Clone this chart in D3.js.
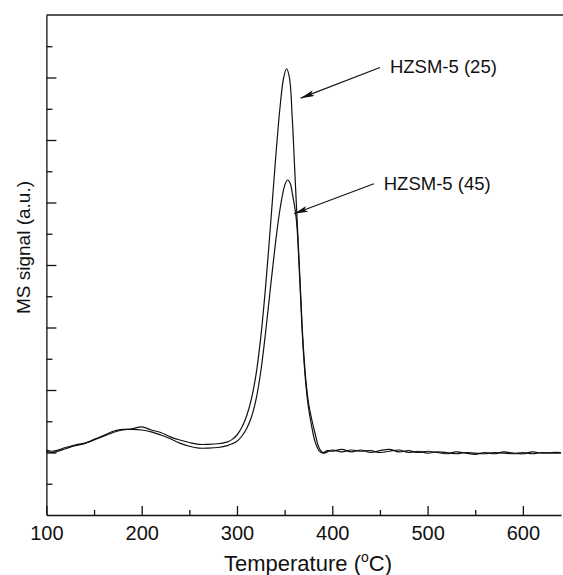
<!DOCTYPE html>
<html>
<head>
<meta charset="utf-8">
<script src="https://cdn.jsdelivr.net/npm/d3@7"></script>
<style>
    body { margin: 0; background: #fff; }
    svg { display: block; font-family: "Liberation Sans", Arial, sans-serif; }
    .axis path, .axis line { stroke: #111; stroke-width: 1.3; }
    .axis text { fill: #111; font-size: 20px; font-family: "Liberation Sans", Arial, sans-serif; }
</style>
</head>
<body>
<svg class="chart"></svg>
<script>

// temperature (oC) and MS signal
var temp25 = [100, 105, 110, 120, 130, 140, 150, 160, 170, 180, 190, 200, 210, 220, 230, 240,
    250, 260, 270, 280, 290, 295, 300, 305, 310, 315, 320, 325, 330, 335, 340, 345, 349, 352,
    355, 358, 360.5, 363, 366, 369, 372, 375, 378, 382, 386, 390, 395, 400, 410, 420, 430, 440,
    450, 460, 470, 480, 490, 500, 510, 520, 530, 540, 550, 560, 570, 580, 590, 600, 610, 620,
    630, 640];
var signal25 = [1.04, 1.02, 1.03, 1.08, 1.12, 1.15, 1.20, 1.26, 1.32, 1.36, 1.38, 1.41, 1.36,
    1.32, 1.25, 1.20, 1.16, 1.13, 1.13, 1.14, 1.17, 1.21, 1.28, 1.40, 1.58, 1.85, 2.25, 2.85,
    3.65, 4.60, 5.60, 6.50, 7.00, 7.14, 7.00, 6.35, 5.55, 4.75, 3.80, 2.85, 2.20, 1.80, 1.56,
    1.30, 1.08, 1.00, 1.03, 1.02, 1.05, 1.01, 1.04, 1.00, 1.03, 1.05, 1.01, 1.03, 1.00, 1.02,
    1.00, 0.98, 1.01, 0.99, 0.97, 1.00, 0.98, 1.01, 0.99, 0.98, 1.01, 0.99, 1.00, 1.00];

var temp45 = [100, 105, 110, 120, 130, 140, 150, 160, 170, 180, 190, 200, 210, 220, 230, 240,
    250, 260, 270, 280, 290, 295, 300, 305, 310, 315, 320, 325, 330, 335, 340, 345, 350, 353,
    356, 358, 361.5, 363, 366, 369, 372, 375, 378, 382, 386, 390, 395, 400, 410, 420, 430, 440,
    450, 460, 470, 480, 490, 500, 510, 520, 530, 540, 550, 560, 570, 580, 590, 600, 610, 620,
    630, 640];
var signal45 = [1.02, 1.00, 1.01, 1.06, 1.11, 1.14, 1.21, 1.27, 1.34, 1.37, 1.37, 1.36, 1.33,
    1.28, 1.22, 1.15, 1.10, 1.07, 1.07, 1.08, 1.11, 1.14, 1.18, 1.26, 1.38, 1.56, 1.85, 2.30,
    2.92, 3.62, 4.30, 4.88, 5.27, 5.36, 5.30, 5.15, 4.83, 4.60, 3.72, 2.78, 2.13, 1.72, 1.45,
    1.17, 1.03, 0.99, 1.01, 1.04, 1.01, 1.04, 1.02, 1.03, 1.00, 1.02, 1.04, 1.00, 1.02, 0.99,
    1.01, 1.00, 0.98, 1.00, 0.99, 0.98, 1.00, 0.99, 0.98, 1.00, 0.98, 1.00, 0.99, 0.99];

// axis ticks
var xMajor = [100, 200, 300, 400, 500, 600];
var xMinor = [150, 250, 350, 450, 550];
var yMajor = [1, 2, 3, 4, 5, 6, 7];
var yMinor = [0.5, 1.5, 2.5, 3.5, 4.5, 5.5, 6.5, 7.5];

// annotations: label, label anchor and arrow tip in data units
var labels = ["HZSM-5 (25)", "HZSM-5 (45)"];
var labelAt = [[460.5, 7.18], [454, 5.31]];
var arrowFrom = [[450, 7.16], [443.7, 5.30]];
var arrowTo = [[366.8, 6.67], [359.8, 4.82]];

drawChart();

function drawChart() {

    var width = 563,
        height = 575;

    var svg = d3.select(".chart")
        .attr("width", width)
        .attr("height", height);

    var x = d3.scaleLinear()
        .domain([100, 640])
        .range([46.4, 561]);

    var y = d3.scaleLinear()
        .domain([0, 8])
        .range([515, 15]);

    drawAxes(svg, x, y);
    drawCurves(svg, x, y);
    drawLabels(svg, x, y);
}

// axes with inward ticks
function drawAxes(svg, x, y) {

    // top frame line
    svg.append("line")
        .attr("x1", x(100))
        .attr("x2", 563)
        .attr("y1", y(8))
        .attr("y2", y(8))
        .attr("stroke", "#555")
        .attr("stroke-width", 2);

    svg.append("g")
        .attr("class", "x axis")
        .attr("transform", "translate(0," + y(0) + ")")
        .call(d3.axisBottom(x).tickValues(xMinor).tickSize(-5).tickFormat(""))
        .select(".domain").remove();

    svg.append("g")
        .attr("class", "x axis")
        .attr("transform", "translate(0," + y(0) + ")")
        .call(d3.axisBottom(x).tickValues(xMajor).tickSize(-9).tickSizeOuter(0).tickPadding(11));

    svg.append("g")
        .attr("class", "y axis")
        .attr("transform", "translate(" + x(100) + ",0)")
        .call(d3.axisLeft(y).tickValues(yMinor).tickSize(-6).tickFormat(""))
        .select(".domain").remove();

    svg.append("g")
        .attr("class", "y axis")
        .attr("transform", "translate(" + x(100) + ",0)")
        .call(d3.axisLeft(y).tickValues(yMajor).tickSize(-10).tickSizeOuter(0).tickFormat(""));
}

// the two desorption curves
function drawCurves(svg, x, y) {

    var line = d3.line()
        .curve(d3.curveCatmullRom)
        .x(function(d) { return x(d[0]); })
        .y(function(d) { return y(d[1]); });

    var series = [d3.zip(temp25, signal25), d3.zip(temp45, signal45)];

    svg.selectAll(".curve")
        .data(series).enter()
        .append("path")
        .attr("class", "curve")
        .attr("d", line)
        .attr("fill", "none")
        .attr("stroke", "#111")
        .attr("stroke-width", 1.2);
}

// axis titles and arrows
function drawLabels(svg, x, y) {

    var defs = svg.append("defs");
    defs.append("marker")
        .attr("id", "head")
        .attr("viewBox", "0 0 14 6")
        .attr("refX", 14)
        .attr("refY", 3)
        .attr("markerWidth", 14)
        .attr("markerHeight", 6)
        .attr("markerUnits", "userSpaceOnUse")
        .attr("orient", "auto")
      .append("path")
        .attr("d", "M0,0 L14,3 L0,6 L3,3 Z")
        .attr("fill", "#111");

    svg.selectAll(".arrow")
        .data(labels).enter()
        .append("line")
        .attr("class", "arrow")
        .attr("x1", function(d, i) { return x(arrowFrom[i][0]); })
        .attr("y1", function(d, i) { return y(arrowFrom[i][1]); })
        .attr("x2", function(d, i) { return x(arrowTo[i][0]); })
        .attr("y2", function(d, i) { return y(arrowTo[i][1]); })
        .attr("stroke", "#111")
        .attr("stroke-width", 1.1)
        .attr("marker-end", "url(#head)");

    svg.selectAll(".label")
        .data(labels).enter()
        .append("text")
        .attr("class", "label")
        .attr("x", function(d, i) { return x(labelAt[i][0]); })
        .attr("y", function(d, i) { return y(labelAt[i][1]); })
        .attr("dy", "0.35em")
        .style("font-size", "18.5px")
        .attr("fill", "#111")
        .text(function(d) { return d; });

    svg.append("text")
        .attr("transform", "translate(29.5,247.5) rotate(-90)")
        .attr("text-anchor", "middle")
        .style("font-size", "19px")
        .attr("fill", "#111")
        .text("MS signal (a.u.)");

    var title = svg.append("text")
        .attr("x", 308)
        .attr("y", 571)
        .attr("text-anchor", "middle")
        .style("font-size", "22px")
        .attr("fill", "#111");
    title.append("tspan").text("Temperature (");
    title.append("tspan")
        .attr("dy", "-9")
        .style("font-size", "14px")
        .text("o");
    title.append("tspan")
        .attr("dy", "9")
        .text("C)");
}
</script>
</body>
</html>
